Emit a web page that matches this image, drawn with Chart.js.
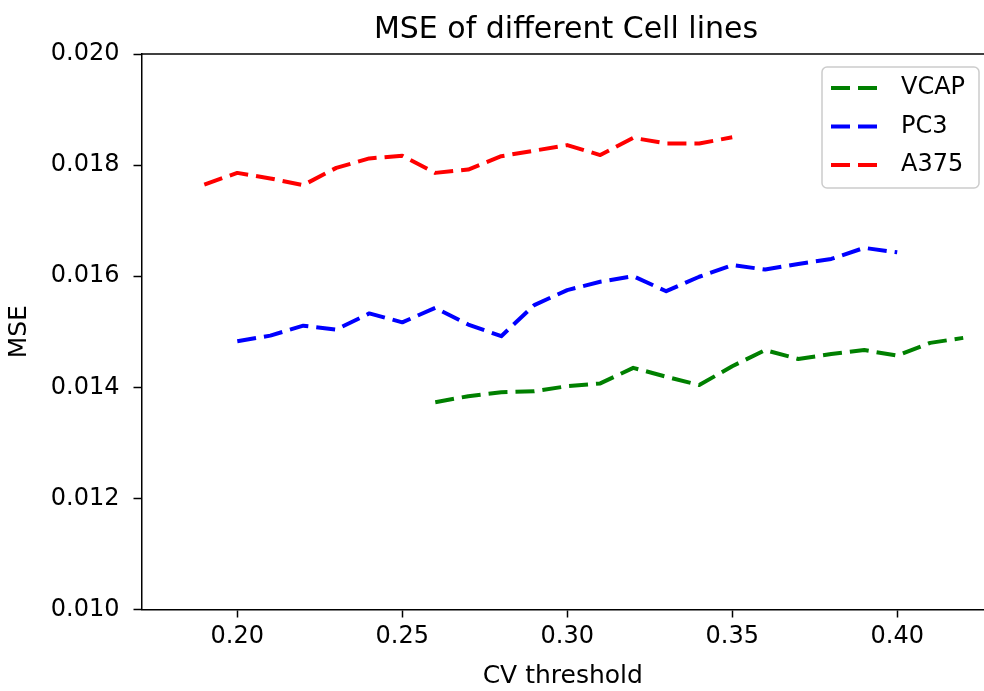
<!DOCTYPE html>
<html lang="en">
<head>
    <meta charset="UTF-8">
    <title>MSE of different Cell lines</title>
    <script src="https://cdn.jsdelivr.net/npm/chart.js"></script>
    <style>
        body {
            margin: 0;
            padding: 0;
            background: white;
        }
        #wrap {
            width: 984px;
            height: 691px;
        }
    </style>
</head>
<body>
    <div id="wrap"><canvas id="mseChart" width="984" height="691"></canvas></div>

    <script>
        // values
        const vcapX = [0.26, 0.27, 0.28, 0.29, 0.30, 0.31, 0.32, 0.33, 0.34, 0.35, 0.36, 0.37, 0.38, 0.39, 0.40, 0.41, 0.42];
        const vcapMse = [0.01373, 0.01384, 0.01391, 0.01393, 0.01402, 0.01407, 0.01435, 0.01419, 0.01404, 0.01438, 0.01467, 0.01451, 0.01460, 0.01467, 0.01457, 0.01480, 0.01489];

        const pc3X = [0.20, 0.21, 0.22, 0.23, 0.24, 0.25, 0.26, 0.27, 0.28, 0.29, 0.30, 0.31, 0.32, 0.33, 0.34, 0.35, 0.36, 0.37, 0.38, 0.39, 0.40];
        const pc3Mse = [0.01483, 0.01493, 0.01511, 0.01504, 0.01533, 0.01517, 0.01543, 0.01513, 0.01492, 0.01548, 0.01575, 0.01590, 0.01600, 0.01573, 0.01599, 0.01620, 0.01612, 0.01622, 0.01631, 0.01651, 0.01643];

        const a375X = [0.19, 0.20, 0.21, 0.22, 0.23, 0.24, 0.25, 0.26, 0.27, 0.28, 0.29, 0.30, 0.31, 0.32, 0.33, 0.34, 0.35];
        const a375Mse = [0.01765, 0.01786, 0.01776, 0.01764, 0.01795, 0.01812, 0.01817, 0.01786, 0.01792, 0.01816, 0.01826, 0.01836, 0.01818, 0.01849, 0.01839, 0.01839, 0.01850];

        const seriesNames = ["VCAP", "PC3", "A375"];
        const seriesColors = ["#008000", "#0000ff", "#ff0000"];
        const chartTitle = "MSE of different Cell lines";

        const FONT = "'DejaVu Sans', sans-serif";
        const DASH = [19, 8];

        function pairs(xs, ys) {
            return xs.map((x, i) => ({ x: x, y: ys[i] }));
        }

        function lineSet(i, xs, ys) {
            return {
                label: seriesNames[i],
                data: pairs(xs, ys),
                borderColor: seriesColors[i],
                backgroundColor: seriesColors[i],
                borderWidth: 4,
                borderDash: DASH,
                borderCapStyle: "butt",
                borderJoinStyle: "round",
                pointRadius: 0,
                tension: 0,
                fill: false
            };
        }

        // title centred over the axes, like matplotlib
        const titlePlugin = {
            id: "axTitle",
            afterDraw(chart) {
                const ctx = chart.ctx;
                ctx.save();
                ctx.font = "30px " + FONT;
                ctx.fillStyle = "#000";
                ctx.textAlign = "center";
                ctx.textBaseline = "middle";
                ctx.fillText(chartTitle, 566, 30);
                ctx.restore();
            }
        };

        // top spine (the right one falls outside the picture)
        const framePlugin = {
            id: "frame",
            afterDraw(chart) {
                const a = chart.chartArea;
                const ctx = chart.ctx;
                ctx.save();
                ctx.strokeStyle = "#000";
                ctx.lineWidth = 1.5;
                ctx.beginPath();
                ctx.moveTo(a.left, a.top);
                ctx.lineTo(a.right + 2, a.top);
                ctx.stroke();
                ctx.restore();
            }
        };

        // boxed legend in the upper right corner
        const legendPlugin = {
            id: "boxLegend",
            afterDraw(chart) {
                const ctx = chart.ctx;
                const x0 = 822, y0 = 67, w = 157, h = 121;
                ctx.save();
                ctx.fillStyle = "rgba(255,255,255,0.8)";
                ctx.strokeStyle = "#cccccc";
                ctx.lineWidth = 1.5;
                ctx.beginPath();
                ctx.roundRect(x0, y0, w, h, 5);
                ctx.fill();
                ctx.stroke();
                chart.data.datasets.forEach((ds, i) => {
                    const y = 88 + i * 38.5;
                    ctx.strokeStyle = ds.borderColor;
                    ctx.lineWidth = ds.borderWidth;
                    ctx.setLineDash(ds.borderDash);
                    ctx.lineCap = "butt";
                    ctx.beginPath();
                    ctx.moveTo(831, y);
                    ctx.lineTo(877, y);
                    ctx.stroke();
                    ctx.setLineDash([]);
                    ctx.fillStyle = "#000";
                    ctx.font = "24px " + FONT;
                    ctx.textAlign = "left";
                    ctx.textBaseline = "middle";
                    ctx.fillText(ds.label, 901, y);
                });
                ctx.restore();
            }
        };

        const ctx = document.getElementById("mseChart").getContext("2d");
        new Chart(ctx, {
            type: "line",
            data: {
                datasets: [
                    lineSet(0, vcapX, vcapMse),
                    lineSet(1, pc3X, pc3Mse),
                    lineSet(2, a375X, a375Mse)
                ]
            },
            options: {
                responsive: false,
                animation: false,
                devicePixelRatio: 1,
                layout: { padding: { top: 54, left: 0, right: 0, bottom: 0 } },
                plugins: {
                    legend: { display: false },
                    title: { display: false },
                    tooltip: { enabled: false }
                },
                scales: {
                    x: {
                        type: "linear",
                        min: 0.17097,
                        max: 0.4263,
                        afterFit(scale) { scale.height = 81.5; },
                        border: { display: true, color: "#000", width: 1.5 },
                        grid: { drawOnChartArea: false, drawTicks: true, tickLength: 8, tickColor: "#000", tickWidth: 1.5 },
                        ticks: {
                            stepSize: 0.05,
                            includeBounds: false,
                            autoSkip: false,
                            maxRotation: 0,
                            padding: 5,
                            color: "#000",
                            font: { family: FONT, size: 24 },
                            callback: v => v.toFixed(2)
                        },
                        title: {
                            display: true,
                            text: "CV threshold",
                            color: "#000",
                            font: { family: FONT, size: 25 },
                            padding: { top: 0, bottom: 0 }
                        }
                    },
                    y: {
                        min: 0.010,
                        max: 0.020,
                        afterFit(scale) { scale.width = 141.5; },
                        border: { display: true, color: "#000", width: 1.5 },
                        grid: { drawOnChartArea: false, drawTicks: true, tickLength: 8, tickColor: "#000", tickWidth: 1.5 },
                        ticks: {
                            stepSize: 0.002,
                            includeBounds: false,
                            autoSkip: false,
                            padding: 14,
                            color: "#000",
                            font: { family: FONT, size: 24 },
                            callback: v => v.toFixed(3)
                        },
                        title: {
                            display: true,
                            text: "MSE",
                            color: "#000",
                            font: { family: FONT, size: 25 },
                            padding: { top: 4, bottom: 0 }
                        }
                    }
                }
            },
            plugins: [titlePlugin, framePlugin, legendPlugin]
        });
    </script>
</body>
</html>
